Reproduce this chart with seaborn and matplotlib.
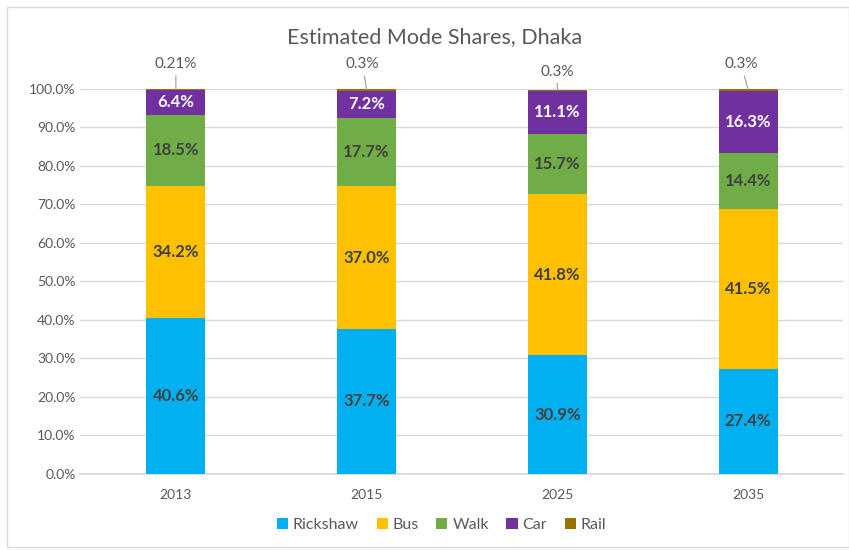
import matplotlib
matplotlib.use("Agg")
import matplotlib.pyplot as plt
import seaborn as sns
import pandas as pd
import numpy as np
from matplotlib.patches import Rectangle, Patch

years = ["2013", "2015", "2025", "2035"]
series = ["Rickshaw", "Bus", "Walk", "Car", "Rail"]
rickshaw = [40.6, 37.7, 30.9, 27.4]
bus = [34.2, 37.0, 41.8, 41.5]
walk = [18.5, 17.7, 15.7, 14.4]
car = [6.4, 7.2, 11.1, 16.3]
rail = [0.21, 0.3, 0.3, 0.3]
rail_labels = ["0.21%", "0.3%", "0.3%", "0.3%"]
colors = ["#00B0F0", "#FFC000", "#70AD47", "#7030A0", "#997300"]
label_colors = ["#404040", "#404040", "#404040", "white"]

sns.set_theme(style="white")
plt.rcParams["font.family"] = ["Lato", "DejaVu Sans"]

values = np.array([rickshaw, bus, walk, car, rail]) / 100.0
cum = np.cumsum(values, axis=0)

fig = plt.figure(figsize=(8.49, 5.5), dpi=100)
ax = fig.add_axes([0.0948, 0.1382, 0.8987, 0.7000])

# draw cumulative bars from top series down
for k in range(len(series) - 1, -1, -1):
    df = pd.DataFrame({"year": years, "value": cum[k]})
    sns.barplot(data=df, x="year", y="value", color=colors[k], width=0.31,
                saturation=1, ax=ax, zorder=3, linewidth=0)

# segment labels
for k in range(4):
    for i in range(len(years)):
        ymid = cum[k][i] - values[k][i] / 2
        ax.text(i, ymid, f"{values[k][i]*100:.1f}%", ha="center", va="center",
                fontsize=12, fontweight="bold", color=label_colors[k], zorder=5)

# rail labels with leader lines
offsets = [(0, 13), (-3, 13), (0, 8), (-5, 13)]
for i in range(len(years)):
    ax.annotate(rail_labels[i], xy=(i, cum[4][i]), xytext=offsets[i],
                textcoords="offset points", ha="center", va="bottom",
                fontsize=11, color="#595959", annotation_clip=False,
                arrowprops=dict(arrowstyle="-", color="#A6A6A6", lw=0.9,
                                shrinkA=1, shrinkB=0))

ax.set_ylim(0, 1.0)
ax.set_xlim(-0.5, 3.5)
ax.set_yticks(np.arange(0, 1.01, 0.1))
ax.set_yticklabels([f"{t*100:.1f}%" for t in np.arange(0, 1.01, 0.1)])
ax.grid(axis="y", color="#D9D9D9", lw=1, zorder=0)
ax.set_axisbelow(True)
for s in ["top", "right", "left"]:
    ax.spines[s].set_visible(False)
ax.spines["bottom"].set_color("#D9D9D9")
ax.tick_params(axis="both", length=0, labelsize=10, colors="#595959")
ax.tick_params(axis="x", pad=11)
ax.set_xlabel("")
ax.set_ylabel("")

fig.text(0.512, 0.933, "Estimated Mode Shares, Dhaka", ha="center", va="center",
         fontsize=15.5, color="#595959")

handles = [Patch(facecolor=c, edgecolor="none") for c in colors]
fig.legend(handles, series, loc="center", bbox_to_anchor=(0.52, 0.045), ncol=5,
           frameon=False, fontsize=11.5, handlelength=0.7, handleheight=0.7,
           handletextpad=0.3, columnspacing=1.1, labelcolor="#595959")

fig.patches.append(Rectangle((7 / 849, 3 / 550), 1 - 7 / 849 - 0.5 / 849, 1 - 10 / 550,
                             transform=fig.transFigure, fill=False,
                             edgecolor="#D9D9D9", lw=1))

fig.savefig("out.png", dpi=100)
